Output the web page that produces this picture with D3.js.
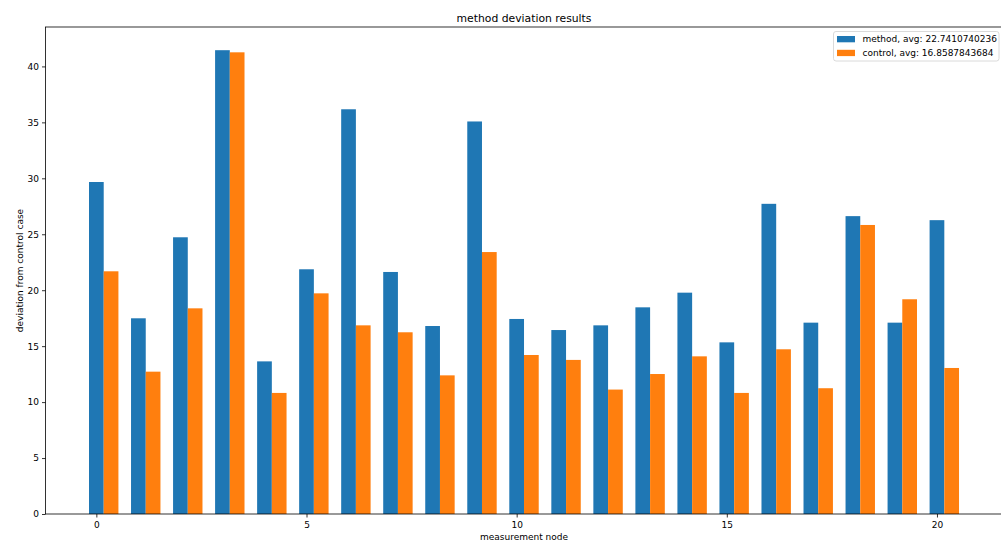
<!DOCTYPE html>
<html>
<head>
<meta charset="utf-8">
<script src="https://cdn.jsdelivr.net/npm/d3@7"></script>
<style>
  html, body { margin: 0; padding: 0; background: #fff; }
  svg { display: block; font-family: "DejaVu Sans", sans-serif; }
</style>
</head>
<body>
<svg id="chart" width="1001" height="547"></svg>
<script>
// Per-node deviation values for the two series
const nodes = d3.range(0, 21);
const methodValues = [29.67, 17.49, 24.73, 41.45, 13.64, 21.87, 36.17, 21.63, 16.80, 35.08,
                      17.43, 16.44, 16.86, 18.47, 19.78, 15.34, 27.72, 17.10, 26.62, 17.10, 26.26];
const controlValues = [21.69, 12.72, 18.38, 41.26, 10.82, 19.72, 16.86, 16.24, 12.39, 23.41,
                       14.21, 13.77, 11.12, 12.51, 14.09, 10.82, 14.72, 11.24, 25.83, 19.19, 13.05];
const seriesNames = ["method, avg: 22.7410740236", "control, avg: 16.8587843684"];
const seriesColors = ["#1f77b4", "#ff7f0e"];
const xTicks = [0, 5, 10, 15, 20];
const yTicks = [0, 5, 10, 15, 20, 25, 30, 35, 40];

const barWidth = 0.35;
const svg = d3.select("#chart");

// Axes box
const plotLeft = 45.5, plotTop = 27, plotBottom = 514;
const xLo = -barWidth / 2, xHi = nodes[nodes.length - 1] + barWidth * 1.5;
const xPad = (xHi - xLo) * 0.05;
const xDomain = [xLo - xPad, xHi + xPad];
const pxPerUnit = 42.03;
const plotRight = plotLeft + (xDomain[1] - xDomain[0]) * pxPerUnit;
const yMax = d3.max(methodValues.concat(controlValues)) * 1.05;

const x = d3.scaleLinear().domain(xDomain).range([plotLeft, plotRight]);
const y = d3.scaleLinear().domain([0, yMax]).range([plotBottom, plotTop]);

// Bars
const series = [methodValues, controlValues];
series.forEach((vals, s) => {
  svg.append("g")
    .selectAll("rect")
    .data(vals)
    .join("rect")
    .attr("x", (d, i) => x(nodes[i] - barWidth / 2 + s * barWidth))
    .attr("width", x(barWidth) - x(0))
    .attr("y", d => y(d))
    .attr("height", d => y(0) - y(d))
    .attr("fill", seriesColors[s]);
});

// Axes
const fontSize = 9;
const xAxis = svg.append("g")
  .attr("transform", `translate(0,${plotBottom})`)
  .call(d3.axisBottom(x).tickValues(xTicks).tickFormat(d3.format("d")).tickSize(3.5).tickPadding(4).tickSizeOuter(0));
const yAxis = svg.append("g")
  .attr("transform", `translate(${plotLeft},0)`)
  .call(d3.axisLeft(y).tickValues(yTicks).tickFormat(d3.format("d")).tickSize(3.5).tickPadding(3).tickSizeOuter(0));

[xAxis, yAxis].forEach(g => {
  g.select(".domain").remove();
  g.selectAll(".tick line").attr("stroke", "#000").attr("stroke-width", 0.8);
  g.selectAll(".tick text")
    .attr("fill", "#000")
    .attr("font-size", fontSize)
    .attr("font-family", "DejaVu Sans, sans-serif");
});

// Frame
svg.append("rect")
  .attr("x", plotLeft).attr("y", plotTop)
  .attr("width", plotRight - plotLeft).attr("height", plotBottom - plotTop)
  .attr("fill", "none").attr("stroke", "#000").attr("stroke-width", 0.8);

// Titles
svg.append("text")
  .attr("x", (plotLeft + plotRight) / 2).attr("y", 22)
  .attr("text-anchor", "middle").attr("font-size", 10.8)
  .text("method deviation results");

svg.append("text")
  .attr("x", (plotLeft + plotRight) / 2).attr("y", 540)
  .attr("text-anchor", "middle").attr("font-size", fontSize)
  .text("measurement node");

svg.append("text")
  .attr("transform", `translate(22.5,${(plotTop + plotBottom) / 2}) rotate(-90)`)
  .attr("text-anchor", "middle").attr("font-size", fontSize)
  .text("deviation from control case");

// Legend
const legend = svg.append("g");
legend.append("rect")
  .attr("x", 833.5).attr("y", 31.5)
  .attr("width", 165.5).attr("height", 29.5)
  .attr("rx", 2.5)
  .attr("fill", "#fff").attr("fill-opacity", 0.8)
  .attr("stroke", "#d0d0d0").attr("stroke-width", 0.8);
seriesNames.forEach((name, i) => {
  const rowY = 36 + i * 13.8;
  legend.append("rect")
    .attr("x", 837).attr("y", rowY)
    .attr("width", 18).attr("height", 6.3)
    .attr("fill", seriesColors[i]);
  legend.append("text")
    .attr("x", 862.5).attr("y", rowY + 6.4)
    .attr("font-size", fontSize)
    .text(name);
});
</script>
</body>
</html>
